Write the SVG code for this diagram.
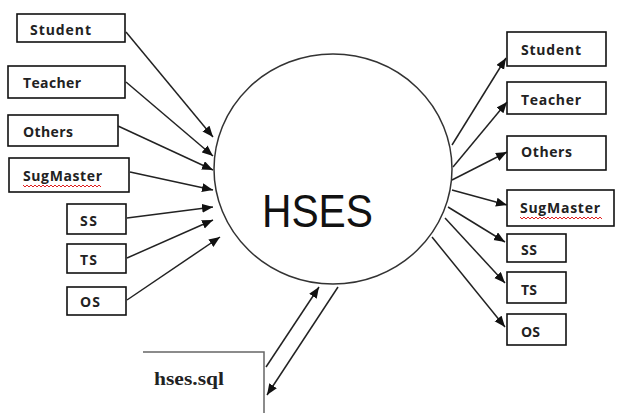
<svg xmlns="http://www.w3.org/2000/svg" width="618" height="413" viewBox="0 0 618 413">
<defs>
<marker id="ah" markerUnits="userSpaceOnUse" markerWidth="12" markerHeight="10" refX="11" refY="4.5" orient="auto">
<path d="M0,0 L11,4.5 L0,9 z" fill="#111"/>
</marker>
<style>
.box{fill:#fff;stroke:#111;stroke-width:1.6}
.lbl{font-family:"Open Sans","Liberation Sans",sans-serif;font-weight:bold;font-size:14px;fill:#222}
.conn line{stroke:#222;stroke-width:1.5;marker-end:url(#ah)}
.squig{fill:none;stroke:#e02020;stroke-width:1}
</style>
</defs>
<rect width="618" height="413" fill="#fff"/>

<g id="hses">
<ellipse cx="333" cy="169" rx="119" ry="115" fill="#fff" stroke="#333" stroke-width="1.5"/>
<text x="262" y="227" font-family="'Liberation Sans',sans-serif" font-size="47" fill="#111" textLength="111" lengthAdjust="spacingAndGlyphs">HSES</text>
</g>

<g id="in-student"><rect class="box" x="17" y="14" width="108" height="28"/><text class="lbl" x="30" y="35" textLength="61">Student</text></g>
<g id="in-teacher"><rect class="box" x="8" y="66" width="117" height="32"/><text class="lbl" x="23" y="88" textLength="58">Teacher</text></g>
<g id="in-others"><rect class="box" x="8" y="115" width="110" height="31"/><text class="lbl" x="23" y="137" textLength="50">Others</text></g>
<g id="in-sugmaster"><rect class="box" x="9" y="158" width="120" height="34"/><text class="lbl" x="23" y="181" textLength="79">SugMaster</text>
<path class="squig" d="M23,185 l2,2 l2,-2 l2,2 l2,-2 l2,2 l2,-2 l2,2 l2,-2 l2,2 l2,-2 l2,2 l2,-2 l2,2 l2,-2 l2,2 l2,-2 l2,2 l2,-2 l2,2 l2,-2 l2,2 l2,-2 l2,2 l2,-2 l2,2 l2,-2 l2,2 l2,-2 l2,2 l2,-2 l2,2 l2,-2 l2,2 l2,-2 l2,2 l2,-2 l2,2 l2,-2 l2,2"/></g>
<g id="in-ss"><rect class="box" x="67" y="204" width="59" height="30"/><text class="lbl" x="80" y="226" textLength="17">SS</text></g>
<g id="in-ts"><rect class="box" x="67" y="244" width="59" height="29"/><text class="lbl" x="80" y="265" textLength="17">TS</text></g>
<g id="in-os"><rect class="box" x="67" y="287" width="59" height="28"/><text class="lbl" x="80" y="307" textLength="20">OS</text></g>

<g id="out-student"><rect class="box" x="507" y="32" width="99" height="34"/><text class="lbl" x="521" y="55" textLength="60">Student</text></g>
<g id="out-teacher"><rect class="box" x="507" y="82" width="99" height="32"/><text class="lbl" x="521" y="105" textLength="60">Teacher</text></g>
<g id="out-others"><rect class="box" x="507" y="136" width="99" height="34"/><text class="lbl" x="521" y="157" textLength="51">Others</text></g>
<g id="out-sugmaster"><rect class="box" x="507" y="190" width="107" height="36"/><text class="lbl" x="520" y="213" textLength="80">SugMaster</text>
<path class="squig" d="M520,217 l2,2 l2,-2 l2,2 l2,-2 l2,2 l2,-2 l2,2 l2,-2 l2,2 l2,-2 l2,2 l2,-2 l2,2 l2,-2 l2,2 l2,-2 l2,2 l2,-2 l2,2 l2,-2 l2,2 l2,-2 l2,2 l2,-2 l2,2 l2,-2 l2,2 l2,-2 l2,2 l2,-2 l2,2 l2,-2 l2,2 l2,-2 l2,2 l2,-2 l2,2 l2,-2 l2,2 l2,-2 l2,2"/></g>
<g id="out-ss"><rect class="box" x="507" y="234" width="59" height="28"/><text class="lbl" x="521" y="255" textLength="16">SS</text></g>
<g id="out-ts"><rect class="box" x="507" y="272" width="59" height="31"/><text class="lbl" x="521" y="295" textLength="16">TS</text></g>
<g id="out-os"><rect class="box" x="507" y="314" width="59" height="31"/><text class="lbl" x="521" y="337" textLength="19">OS</text></g>

<g id="db">
<path d="M143,352 L264,352 L264,413" fill="none" stroke="#666" stroke-width="1.5"/>
<text x="154" y="385" font-family="'Liberation Serif',serif" font-weight="bold" font-size="19" fill="#222" textLength="70" lengthAdjust="spacingAndGlyphs">hses.sql</text>
</g>

<g id="connectors" class="conn">
<line x1="126" y1="32" x2="213" y2="137"/>
<line x1="126" y1="82" x2="213" y2="156"/>
<line x1="118" y1="126" x2="213" y2="170"/>
<line x1="130" y1="172" x2="213" y2="190"/>
<line x1="127" y1="218" x2="213" y2="207"/>
<line x1="127" y1="258" x2="213" y2="220"/>
<line x1="127" y1="300" x2="220" y2="237"/>
<line x1="452" y1="145" x2="506" y2="58"/>
<line x1="453" y1="167" x2="507" y2="102"/>
<line x1="452" y1="180" x2="507" y2="152"/>
<line x1="452" y1="190" x2="507" y2="205"/>
<line x1="448" y1="207" x2="505" y2="242"/>
<line x1="445" y1="218" x2="505" y2="283"/>
<line x1="432" y1="237" x2="505" y2="327"/>
<line x1="266" y1="367" x2="319" y2="287"/>
<line x1="338" y1="287" x2="267" y2="395"/>
</g>
</svg>
